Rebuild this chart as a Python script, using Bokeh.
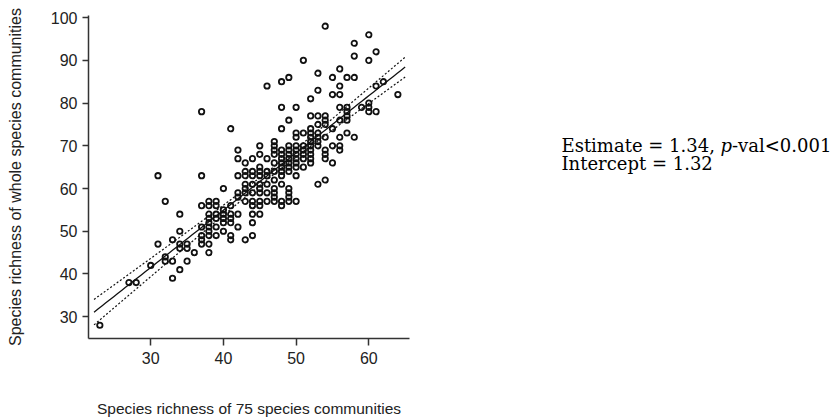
import numpy as np
from bokeh.plotting import figure
from bokeh.models import Range1d, Label, FixedTicker
from bokeh.layouts import row
from bokeh.embed import file_html
from bokeh.resources import INLINE

# Species richness of 75-species communities (x) and of whole communities (y)
x75 = [
    23, 27, 28, 30, 31, 31, 32, 32, 32, 33, 33, 33,
    34, 34, 34, 34, 34, 35, 35, 35, 36,
    37, 37, 37, 37, 37, 37, 37,
    38, 38, 38, 38, 38, 38, 38, 38, 38, 38,
    39, 39, 39, 39, 39, 39,
    40, 40, 40, 40, 40, 40,
    41, 41, 41, 41, 41, 41, 41,
    42, 42, 42, 42, 42, 42, 42,
    43, 43, 43, 43, 43, 43, 43, 43,
    44, 44, 44, 44, 44, 44, 44, 44, 44, 44,
    45, 45, 45, 45, 45, 45, 45, 45, 45, 45, 45,
    46, 46, 46, 46, 46, 46, 46,
    47, 47, 47, 47, 47, 47, 47, 47, 47, 47, 47,
    48, 48, 48, 48, 48, 48, 48, 48, 48, 48, 48, 48, 48,
    49, 49, 49, 49, 49, 49, 49, 49, 49, 49, 49, 49, 49,
    50, 50, 50, 50, 50, 50, 50, 50, 50, 50, 50,
    51, 51, 51, 51, 51, 51, 51,
    52, 52, 52, 52, 52, 52, 52, 52, 52, 52, 52,
    53, 53, 53, 53, 53, 53, 53, 53, 53,
    54, 54, 54, 54, 54, 54, 54, 54, 54,
    55, 55, 55, 55, 55,
    56, 56, 56, 56, 56, 56, 56, 56,
    57, 57, 57, 57, 57, 57,
    58, 58, 58, 58,
    59,
    60, 60, 60, 60, 60,
    61, 61, 61,
    62, 64,
]
whole = [
    28, 38, 38, 42, 63, 47, 57, 44, 43, 48, 43, 39,
    54, 50, 47, 46, 41, 47, 46, 43, 45,
    78, 63, 56, 51, 49, 48, 47,
    57, 56, 54, 53, 52, 51, 50, 49, 47, 45,
    57, 56, 54, 53, 51, 49,
    60, 55, 54, 53, 52, 50,
    74, 56, 54, 53, 52, 49, 48,
    69, 67, 63, 59, 58, 54, 51,
    66, 64, 63, 61, 60, 59, 57, 48,
    67, 64, 63, 61, 59, 57, 56, 54, 52, 49,
    70, 68, 65, 64, 63, 61, 60, 59, 57, 56, 54,
    84, 67, 64, 63, 61, 59, 57,
    71, 70, 69, 68, 66, 64, 62, 60, 59, 58, 57,
    85, 79, 74, 69, 68, 67, 66, 65, 64, 63, 61, 57, 56,
    86, 76, 70, 69, 68, 67, 66, 65, 64, 60, 59, 58, 57,
    79, 73, 72, 70, 69, 68, 67, 66, 65, 63, 57,
    90, 73, 70, 69, 68, 67, 65,
    81, 77, 74, 73, 72, 71, 70, 69, 68, 67, 66,
    87, 83, 77, 75, 73, 72, 71, 70, 61,
    98, 77, 76, 75, 72, 69, 68, 67, 62,
    86, 82, 74, 70, 66,
    88, 84, 82, 79, 76, 72, 70, 69,
    86, 79, 78, 77, 76, 73,
    94, 91, 86, 72,
    79,
    96, 90, 80, 79, 78,
    92, 84, 78,
    85, 82,
]

x_ticks = [30, 40, 50, 60]
y_ticks = [30, 40, 50, 60, 70, 80, 90, 100]
estimate = 1.34
intercept = 1.32
fit_span = [22.2, 65.0]

H = 419
TOP, BOTTOM = 15, 80
p = figure(width=428, height=H, output_backend="svg", toolbar_location=None,
           x_range=Range1d(21.44, 65.6), y_range=Range1d(24.9, 100.5),
           min_border_left=88, min_border_right=19, min_border_top=TOP,
           min_border_bottom=BOTTOM)
p.outline_line_color = None
p.xgrid.grid_line_color = None
p.ygrid.grid_line_color = None
p.background_fill_color = "white"
p.border_fill_color = "white"

# data points
p.scatter(x75, whole, marker="circle", size=5.4, fill_color=None,
          line_color="#111111", line_width=1.8)

# fitted line and confidence band
xa = np.array(x75, dtype=float)
ya = np.array(whole, dtype=float)
n = len(xa)
xbar = xa.mean()
sxx = ((xa - xbar) ** 2).sum()
resid = ya - (intercept + estimate * xa)
s = np.sqrt((resid ** 2).sum() / (n - 2))
grid = np.linspace(fit_span[0], fit_span[1], 80)
fit = intercept + estimate * grid
hw = 1.97 * s * np.sqrt(1.0 / n + (grid - xbar) ** 2 / sxx)

p.line(grid, fit, line_color="#111111", line_width=1.3)
p.line(grid, fit + hw, line_color="#111111", line_width=1.2, line_dash="2 2")
p.line(grid, fit - hw, line_color="#111111", line_width=1.2, line_dash="2 2")

# axes
for ax in (p.xaxis[0], p.yaxis[0]):
    ax.axis_line_color = "#333333"
    ax.axis_line_width = 1.5
    ax.major_tick_line_color = "#333333"
    ax.major_tick_line_width = 1.5
    ax.major_tick_in = 0
    ax.minor_tick_line_color = None
    ax.major_label_text_font = "Liberation Sans"
    ax.major_label_text_font_size = "16px"
    ax.major_label_text_color = "#222222"
    ax.axis_label_text_font = "Liberation Sans"
    ax.axis_label_text_font_style = "normal"
    ax.axis_label_text_color = "#222222"

p.xaxis.axis_label_text_font_size = "15.5px"
p.yaxis.axis_label_text_font_size = "16px"
p.xaxis.ticker = FixedTicker(ticks=x_ticks)
p.yaxis.ticker = FixedTicker(ticks=y_ticks)
p.xaxis.major_tick_out = 7
p.yaxis.major_tick_out = 6
p.xaxis.major_label_standoff = 6
p.yaxis.major_label_standoff = 5
p.xaxis.axis_label = "Species richness of 75 species communities"
p.yaxis.axis_label = "Species richness of whole species communities"
p.xaxis.axis_label_standoff = 33
p.yaxis.axis_label_standoff = 24

# side panel with the regression summary; its frame matches the main frame
# vertically, and its y range is in page pixels (downwards)
W2 = 407
p2 = figure(width=W2, height=H, output_backend="svg", toolbar_location=None,
            x_range=Range1d(0, W2), y_range=Range1d(H - BOTTOM, TOP),
            x_axis_location=None, y_axis_location=None,
            min_border_left=0, min_border_right=0,
            min_border_top=TOP, min_border_bottom=BOTTOM)
p2.outline_line_color = None
p2.xgrid.grid_line_color = None
p2.ygrid.grid_line_color = None

fs = "18px"
x0 = 133
base1 = 145
base2 = 163
common = dict(text_font="DejaVu Serif", text_font_size=fs, text_color="black",
              text_baseline="alphabetic")
p2.add_layout(Label(x=x0, y=base1, text="Estimate = 1.34,", **common))
p2.add_layout(Label(x=x0 + 159, y=base1, text="p", text_font_style="italic", **common))
p2.add_layout(Label(x=x0 + 170.5, y=base1, text="-val<0.001", **common))
p2.add_layout(Label(x=x0, y=base2, text="Intercept = 1.32", **common))

layout = row(p, p2)
open("out.html", "w").write(file_html(layout, INLINE))
